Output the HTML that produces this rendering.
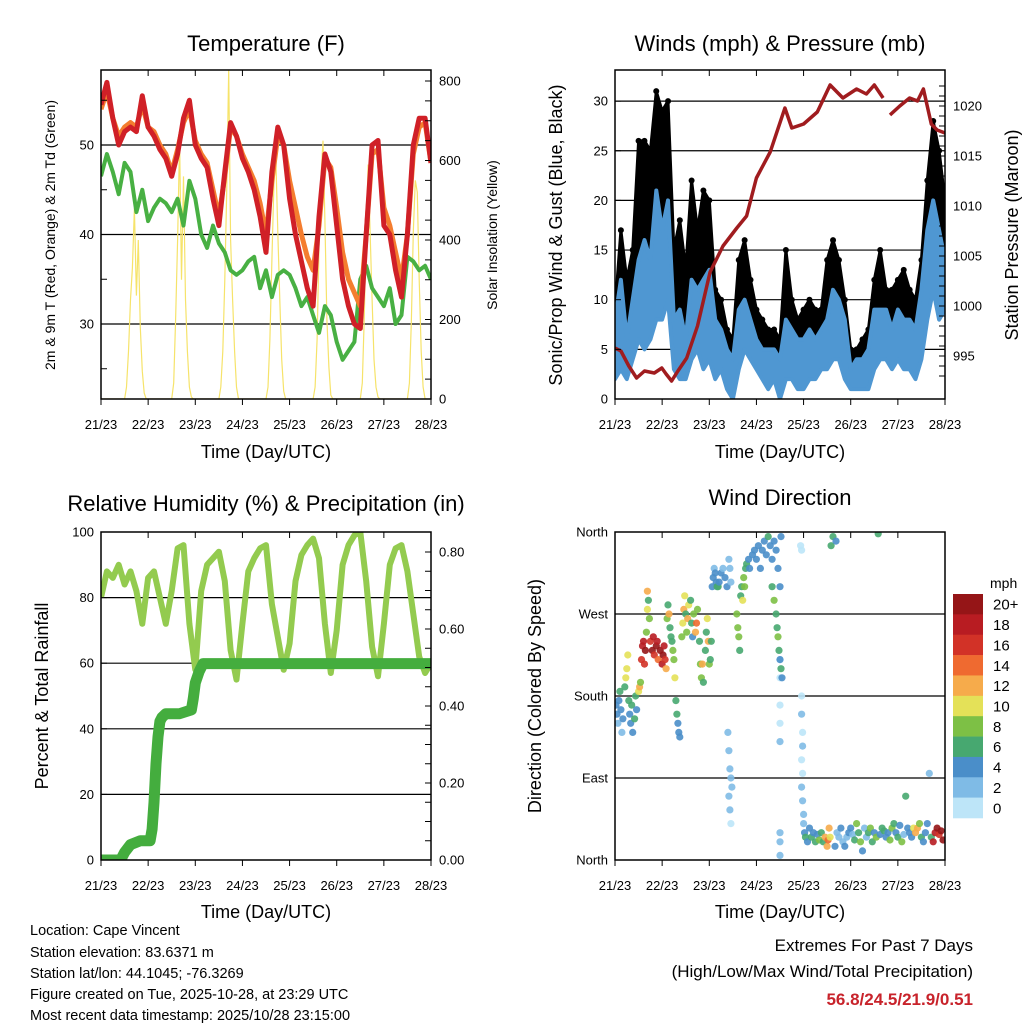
<!DOCTYPE html>
<html><head><meta charset="utf-8"><style>
html,body{margin:0;padding:0;background:#fff;}
svg{display:block;font-family:"Liberation Sans",sans-serif;}
</style></head><body>
<svg id="fig" width="1024" height="1024" viewBox="0 0 1024 1024" xmlns="http://www.w3.org/2000/svg">
<defs>
<clipPath id="c1"><rect x="101" y="70" width="330" height="329"/></clipPath>
<clipPath id="c2"><rect x="615" y="70" width="330" height="329"/></clipPath>
<clipPath id="c3"><rect x="101" y="532" width="330" height="328"/></clipPath>
<clipPath id="c4"><rect x="615" y="532" width="330" height="328"/></clipPath>
</defs>
<g id="p1"></g>
<g id="p2"></g>
<g id="p3"></g>
<g id="p4"></g>
<g font-size="14.5" fill="#000">
<text x="30" y="935">Location: Cape Vincent</text>
<text x="30" y="957">Station elevation: 83.6371 m</text>
<text x="30" y="978">Station lat/lon: 44.1045; -76.3269</text>
<text x="30" y="999">Figure created on Tue, 2025-10-28, at 23:29 UTC</text>
<text x="30" y="1020">Most recent data timestamp: 2025/10/28 23:15:00</text>
</g>
<g text-anchor="end">
<text x="973" y="951" font-size="17">Extremes For Past 7 Days</text>
<text x="973" y="977" font-size="17">(High/Low/Max Wind/Total Precipitation)</text>
<text x="973" y="1005" font-size="17" font-weight="bold" fill="#c8232b">56.8/24.5/21.9/0.51</text>
</g>
</svg>
<script>
const NS="http://www.w3.org/2000/svg";
// ---------- data ----------
const dayLabels=["21/23","22/23","23/23","24/23","25/23","26/23","27/23","28/23"];
const t3=[0,3,6,9,12,15,18,21,24,27,30,33,36,39,42,45,48,51,54,57,60,63,66,69,72,75,78,81,84,87,90,93,96,99,102,105,108,111,114,117,120,123,126,129,132,135,138,141,144,147,150,153,156,159,162,165,168];
const tempRed=[54.5,57,53,50,51.5,52,51.5,55.5,52,51,49.5,48.5,46.5,49,53,55,50,48.5,47.5,44,41,47,52.5,51,48.5,47,45,42,38,47,52,50,44,40,37,34,32,42,49,47,41,35,32,30,29.5,40,50,50.5,41,40,36,33,40,50,53,53,48];
const tempOrange=[54,56,53,51,52,52.5,52,54.5,52,51.5,50,49,47,49.5,52.5,54,50.5,49,48,45,42,46.5,52,51,49,47.5,46,43.5,40,46,51,50,46,43,40,37.5,36,41,48.5,47.5,43,38,35,33.5,32,40,49,49.5,43,41,38,35,40,49,52,52.5,48];
const dewGreen=[46.5,49,47,44.5,48,47,42.5,45,41.5,43,44,43.5,42.5,44,41,46,44,40,38.5,41,39,38,36,35.5,36,37,37.5,34,36,33,35.5,36,35.5,34,32,33,31,29,32,31,28,26,27,28,35,36.5,34,33,32,34,30,31,37.5,37,36,36.5,35];
const solar=[0,0,0,0,0,0,0,0,0,0,0,0,0,30,120,250,330,480,260,400,180,70,15,0,0,
0,0,0,0,0,0,0,0,0,0,0,0,40,200,400,650,300,560,250,120,30,5,0,0,
0,0,0,0,0,0,0,0,0,0,0,0,30,120,300,520,830,400,250,120,30,0,0,0,
0,0,0,0,0,0,0,0,0,0,0,0,30,150,350,540,610,420,250,100,20,0,0,0,
0,0,0,0,0,0,0,0,0,0,0,0,30,150,380,560,650,450,200,80,10,0,0,0,
0,0,0,0,0,0,0,0,0,0,0,0,40,200,420,590,420,250,100,30,5,0,0,0,
0,0,0,0,0,0,0,0,0,0,0,0,40,200,420,550,520,300,120,30,0,0];
const windTop=[8,12,6,10,14,16,14,21,17,20,8,9,6,12,11,12,13,8,7,5,4,9,10,8,6,5,5,5,4,8,7,6,6,7,6,7,8,11,10,8,3,4,4,5,9,9,9,7,9,8,8,7,11,17,20,17,14];
const windLow=[2,3,2,4,6,5,6,8,8,10,3,2,2,4,5,3,4,2,3,1,0,3,5,4,3,2,1,2,0,2,2,1,1,2,2,3,3,4,4,2,1,1,1,1,3,4,4,3,4,3,3,2,4,8,11,8,9];
const windGust=[9,17,12,15,26,26,25,31,29,30,15,18,13,22,17,21,20,11,10,7,6,14,16,12,9,8,7,7,6,15,10,8,9,10,9,9,14,16,14,10,5,5,6,7,12,15,11,11,12,13,11,10,14,22,28,25,20];
const pressT=[0,3,7,11,15,20,23.8,26,28.8,32,36.5,42,48.4,55,62,67,72,79,86.5,90,96,103,109.5,116,123,128,132,136.5,null,140,145,150,154,157,161,164,168];
const pressV=[995.8,995.5,994,992.8,993.5,993.3,993.8,993.2,992.5,993.5,994.8,998,1003.4,1006,1007.8,1009,1012.8,1015.4,1019.8,1017.8,1018.2,1019.4,1022.1,1020.8,1021.7,1021.2,1022.1,1020.8,null,1019.1,1020,1020.8,1020.5,1021.7,1018.2,1017.6,1017.3];
const rh=[80,88,86,90,84,88,82,72,86,88,80,72,82,95,96,72,58,82,90,92,94,85,64,55,72,88,92,95,96,78,68,58,66,85,93,96,98,92,72,57,70,90,96,99,100,85,65,56,72,90,95,96,88,75,62,57,60];
const precipT=[0,10,12,15,20,25,26,27,28,29,30,31,33,40,46,47,48,50,52,168];
const precipV=[0,0,0.02,0.04,0.05,0.05,0.08,0.15,0.25,0.32,0.36,0.37,0.38,0.38,0.39,0.42,0.46,0.49,0.51,0.51];
const dirT=[0.5,1,1.5,2,2.5,3,3.5,4,5,5.5,6,6.5,7,7.5,8,8.5,9,10,10.5,11,12,12.5,13,
13.5,14,14.5,15,15.5,16,16.5,16.5,17,17.5,18,19,19.5,20,21,21.5,22,23,24,24.5,25,25.5,26,26.5,27,27.5,28,28.5,29,29.5,
30,30.5,31,31.5,32,32.5,33,34,34.5,35,35.5,36,36.5,37,37.5,
38.5,39,39.5,40,41,41.5,42,43,43.5,44,44.5,45,46,46.5,47,47.5,48,48.5,49,49.5,50,50.5,
51,51.5,52,52.5,53,54,55,56,57,58,58.5,59,57.5,58,58.5,59,59.5,58,58.5,59,
62,62.5,63,63.5,64,64.5,65,65.5,66,66.5,67,68,68.5,
70,71,72,73,74,75,76,77,78,79,80,81,82,83,84,84.5,
84,84,84,84,84,84,84,84,
80,81,82,82.5,83,83.5,84,84.5,85,
94.5,95,95,95,95.5,95.5,95,95.5,95,95.5,96,96,
96.5,97,98,99,100,101,102,103,104,105,106,107,108,108.5,109,109.5,110,111,112,112.5,113,114,115,116,117,118,119,120,121,122,123,124,125,126,127,128,129,130,131,132,133,134,135,136,137,138,139,140,141,142,143,144,145,146,147,148,149,150,151,152,153,154,155,156,157,158,159,160,161,162,163,164,165,166,167];
const dirDeg=[170,160,150,175,185,165,140,155,190,200,210,225,175,160,150,170,140,155,180,165,185,190,195,
220,235,240,215,230,250,275,295,285,265,240,230,245,225,235,240,220,230,215,225,235,220,210,265,280,270,255,245,240,230,
220,200,175,160,150,140,135,245,260,275,290,270,250,265,280,
285,260,245,270,250,260,275,240,215,200,215,195,230,250,265,240,215,220,240,300,310,320,
315,305,300,300,305,315,320,310,300,330,320,305,140,120,100,90,80,70,55,40,
270,255,245,230,290,300,285,310,300,320,325,330,320,
335,340,330,345,320,340,350,335,355,345,330,350,340,320,300,355,
220,200,170,150,130,30,20,5,
300,285,270,255,245,230,220,210,200,
345,340,180,160,140,125,110,95,80,65,50,40,
30,25,20,35,25,30,20,28,22,30,20,25,15,22,35,25,345,355,15,350,30,25,35,20,15,25,30,35,28,22,40,30,20,10,35,25,30,35,20,30,25,358,28,35,32,25,30,22,35,40,30,25,38,20,28,70,35,30,25,35,30,35,40,25,20,30,40,95,25,20,30,35,28,32,22,28,18,25,30,25];
const dirSpd=[4,4,3,5,6,4,3,5,7,10,11,10,6,4,4,6,4,6,7,5,11,12,8,
16,18,19,17,20,9,10,12,7,8,17,20,18,16,21,19,15,20,18,21,19,17,13,8,7,12,6,6,7,8,
9,10,6,6,5,4,4,8,10,13,11,7,8,12,10,
7,6,5,8,12,14,9,7,8,9,12,6,7,6,10,13,8,6,7,4,4,3,
4,4,6,7,5,4,3,4,4,2,3,3,3,2,3,2,2,3,2,1,
8,9,8,6,7,6,10,8,9,7,6,5,4,
5,4,5,4,4,5,5,4,6,5,5,4,5,4,5,4,
1,1,1,1,2,3,2,2,
7,8,7,6,8,6,5,6,5,
1,1,1,2,1,2,1,1,2,3,2,3,
5,6,4,5,7,5,6,4,8,7,6,12,13,14,12,10,7,7,4,5,3,3,4,3,4,3,5,4,3,7,8,7,8,4,3,2,7,8,6,4,8,6,4,6,7,5,4,8,8,6,5,6,5,8,3,6,4,4,5,10,12,13,8,7,5,4,4,3,6,18,19,20,17,21,20,18,16,21,19,20,18,17,15];
const speedBins=["20+","18","16","14","12","10","8","6","4","2","0"];
const binColors=["#951517","#b81c22","#d23227","#ef6a30","#f6ab4b","#e4e158","#7dc045","#47a870","#4a8ec9","#7fbbe6","#bde5f8"];
const dirLabels=["North","East","South","West","North"];

// ---------- helpers ----------
function el(tag,attrs,parent){const e=document.createElementNS(NS,tag);for(const k in attrs)e.setAttribute(k,attrs[k]);parent.appendChild(e);return e;}
function txt(parent,x,y,s,size,anchor,extra){const e=el("text",Object.assign({x:x,y:y,"font-size":size,"text-anchor":anchor||"middle"},extra||{}),parent);e.textContent=s;return e;}
const tx1=t=>101+t/168*330, tx2=t=>615+t/168*330;
function pathFrom(ts,vs,fx,fy){let d="",pen=false;for(let i=0;i<ts.length;i++){if(vs[i]===null||ts[i]===null){pen=false;continue;}d+=(pen?"L":"M")+fx(ts[i]).toFixed(1)+","+fy(vs[i]).toFixed(1);pen=true;}return d;}

function frame(g,x0,y0,w,h,leftTicks,rightTicks,grid){
  const xt=el("g",{},g);
  
  
  for(let i=0;i<8;i++){const x=x0+i*w/7;
    el("line",{x1:x,y1:y0+h,x2:x,y2:y0+h+6,stroke:"#000"},xt);
    el("line",{x1:x,y1:y0,x2:x,y2:y0+6,stroke:"#000"},xt);
    const l=txt(xt,x,y0+h+30,dayLabels[i],13);
    
    }
  grid.forEach(y=>{const gl=el("line",{x1:x0,y1:y,x2:x0+w,y2:y,stroke:"#000","stroke-width":1.2},g);
    
    });
}
function axisTicks(g,x,ys,labels,side,size){
  ys.forEach((y,i)=>{
    el("line",{x1:x,y1:y,x2:x+(side<0?6:-6),y2:y,stroke:"#000"},g);
    if(labels&&labels[i]!==undefined){const l=txt(g,x+(side<0?-7:8),y+4.5,labels[i],size||13,side<0?"end":"start");
      
      }
  });
}
function border(g,x,y,w,h){const b=el("rect",{x:x,y:y,width:w,height:h,fill:"none",stroke:"#000","stroke-width":1.5},g);
  
  }
function rotLabel(g,x,y,s,size,name){const e=txt(g,x,y,s,size,"middle",{transform:"rotate(-90 "+x+" "+y+")"});
  
  }
function title(g,x,y,s,name){const e=txt(g,x,y,s,22);
  
  }

// ---------- panel 1 ----------
(function(){
 const g=document.getElementById("p1");
 const yT=v=>324-(v-30)*8.95, yS=v=>399-v*0.3975;
 frame(g,101,70,330,329,[],[],[yT(30),yT(40),yT(50)]);
 const cg=el("g",{"clip-path":"url(#c1)"},g);
 const hrs=solar.map((v,i)=>i);
 const s=el("path",{d:pathFrom(hrs,solar,tx1,yS),fill:"none",stroke:"#f6e36a","stroke-width":1.2},cg);
 
 
 const dg=el("path",{d:pathFrom(t3,dewGreen,tx1,yT),fill:"none",stroke:"#48b043","stroke-width":4,"stroke-linejoin":"round"},cg);
 
 
 const o=el("path",{d:pathFrom(t3,tempOrange,tx1,yT),fill:"none",stroke:"#f47d2f","stroke-width":5,"stroke-linejoin":"round"},cg);
 
 
 const r=el("path",{d:pathFrom(t3,tempRed,tx1,yT),fill:"none",stroke:"#d02027","stroke-width":5,"stroke-linejoin":"round"},cg);
 
 
 border(g,101,70,330,329);
 const la=el("g",{},g);
 
 
 axisTicks(la,101,[yT(30),yT(40),yT(50)],["30","40","50"],-1);
 axisTicks(la,101,[yT(25),yT(35),yT(45),yT(55)],null,-1);
 const ra=el("g",{},g);
 
 
 axisTicks(ra,431,[0,200,400,600,800].map(yS),["0","200","400","600","800"],1);
 axisTicks(ra,431,[50,100,150,250,300,350,450,500,550,650,700,750].map(yS),null,1);
 title(g,266,51,"Temperature (F)","temperature-title");
 rotLabel(g,55,235,"2m & 9m T (Red, Orange) & 2m Td (Green)",14,"y-axis-title-left");
 rotLabel(g,497,235,"Solar Insolation (Yellow)",14,"y-axis-title-right");
 const xl=txt(g,266,458,"Time (Day/UTC)",18);
 
 
})();

// ---------- panel 2 ----------
(function(){
 const g=document.getElementById("p2");
 const yW=v=>399-v*9.93, yP=v=>356-(v-995)*10;
 frame(g,615,70,330,329,[],[],[5,10,15,20,25,30].map(yW));
 const cg=el("g",{"clip-path":"url(#c2)"},g);
 let d=pathFrom(t3,windGust,tx2,yW);
 for(let i=t3.length-1;i>=0;i--)d+="L"+tx2(t3[i]).toFixed(1)+","+yW(windLow[i]).toFixed(1);
 const gb=el("path",{d:d+"Z",fill:"#000",stroke:"#000","stroke-width":3,"stroke-linejoin":"round"},cg);
 
 
 t3.forEach((t,i)=>{const c=el("circle",{cx:tx2(t),cy:yW(windGust[i]),r:3,fill:"#000"},cg);
   
   });
 let d2=pathFrom(t3,windTop,tx2,yW);
 for(let i=t3.length-1;i>=0;i--)d2+="L"+tx2(t3[i]).toFixed(1)+","+yW(windLow[i]).toFixed(1);
 const wb=el("path",{d:d2+"Z",fill:"#4f97d2",stroke:"#4f97d2","stroke-width":4,"stroke-linejoin":"round"},cg);
 
 
 const p=el("path",{d:pathFrom(pressT,pressV,tx2,yP),fill:"none",stroke:"#a01c1f","stroke-width":3.5,"stroke-linejoin":"round"},cg);
 
 
 border(g,615,70,330,329);
 const la=el("g",{},g);
 
 
 axisTicks(la,615,[0,5,10,15,20,25,30].map(yW),["0","5","10","15","20","25","30"],-1);
 const ra=el("g",{},g);
 
 
 axisTicks(ra,945,[995,1000,1005,1010,1015,1020].map(yP),["995","1000","1005","1010","1015","1020"],1);
 axisTicks(ra,945,[993,994,996,997,998,999,1001,1002,1003,1004,1006,1007,1008,1009,1011,1012,1013,1014,1016,1017,1018,1019,1021,1022].map(yP),null,1);
 title(g,780,51,"Winds (mph) & Pressure (mb)","winds-title");
 rotLabel(g,562,235,"Sonic/Prop Wind & Gust (Blue, Black)",18,"y-axis-title-left");
 rotLabel(g,1018,235,"Station Pressure (Maroon)",18,"y-axis-title-right");
 const xl=txt(g,780,458,"Time (Day/UTC)",18);
 
 
})();

// ---------- panel 3 ----------
(function(){
 const g=document.getElementById("p3");
 const yR=v=>860-v*3.28, yQ=v=>860-v*385;
 frame(g,101,532,330,328,[],[],[20,40,60,80].map(yR));
 const cg=el("g",{"clip-path":"url(#c3)"},g);
 const r=el("path",{d:pathFrom(t3,rh,tx1,yR),fill:"none",stroke:"#93cb4f","stroke-width":6,"stroke-linejoin":"round"},cg);
 
 
 const p=el("path",{d:pathFrom(precipT,precipV,tx1,yQ),fill:"none",stroke:"#44ad3e","stroke-width":11,"stroke-linejoin":"round","stroke-linecap":"round"},cg);
 
 
 border(g,101,532,330,328);
 const la=el("g",{},g);
 
 
 axisTicks(la,101,[0,20,40,60,80,100].map(yR),["0","20","40","60","80","100"],-1);
 const ra=el("g",{},g);
 
 
 axisTicks(ra,431,[0,0.2,0.4,0.6,0.8].map(yQ),["0.00","0.20","0.40","0.60","0.80"],1);
 axisTicks(ra,431,[0.05,0.1,0.15,0.25,0.3,0.35,0.45,0.5,0.55,0.65,0.7,0.75].map(yQ),null,1);
 title(g,266,511,"Relative Humidity (%) & Precipitation (in)","humidity-title");
 rotLabel(g,48,696,"Percent & Total Rainfall",18,"y-axis-title-left");
 const xl=txt(g,266,918,"Time (Day/UTC)",18);
 
 
})();

// ---------- panel 4 ----------
(function(){
 const g=document.getElementById("p4");
 const yD=v=>860-v/360*328;
 frame(g,615,532,330,328,[],[],[90,180,270].map(yD));
 const cg=el("g",{"clip-path":"url(#c4)"},g);
 const binOf=s=>s>=20?0:s>=18?1:s>=16?2:s>=14?3:s>=12?4:s>=10?5:s>=8?6:s>=6?7:s>=4?8:s>=2?9:10;
 dirT.forEach((t,i)=>{const c=el("circle",{cx:tx2(t).toFixed(1),cy:yD(dirDeg[i]).toFixed(1),r:3.6,fill:binColors[binOf(dirSpd[i])],"fill-opacity":0.9},cg);
   
   });
 border(g,615,532,330,328);
 const la=el("g",{},g);
 
 
 axisTicks(la,615,[0,90,180,270,360].map(yD),dirLabels,-1);
 title(g,780,505,"Wind Direction","wind-direction-title");
 rotLabel(g,541,696,"Direction (Colored By Speed)",18,"y-axis-title-left");
 const xl=txt(g,780,918,"Time (Day/UTC)",18);
 
 
 const lg=el("g",{},g);
 
 
 const u=txt(lg,990,588,"mph",14,"start");
 
 
 const bh=(818-594)/11;
 speedBins.forEach((s,i)=>{const rr=el("rect",{x:953,y:594+i*bh,width:30,height:bh+0.3,fill:binColors[i]},lg);
   
   
   const l=txt(lg,993,594+i*bh+bh/2+5.5,s,15,"start");
   
   });
})();
</script>
</body></html>
